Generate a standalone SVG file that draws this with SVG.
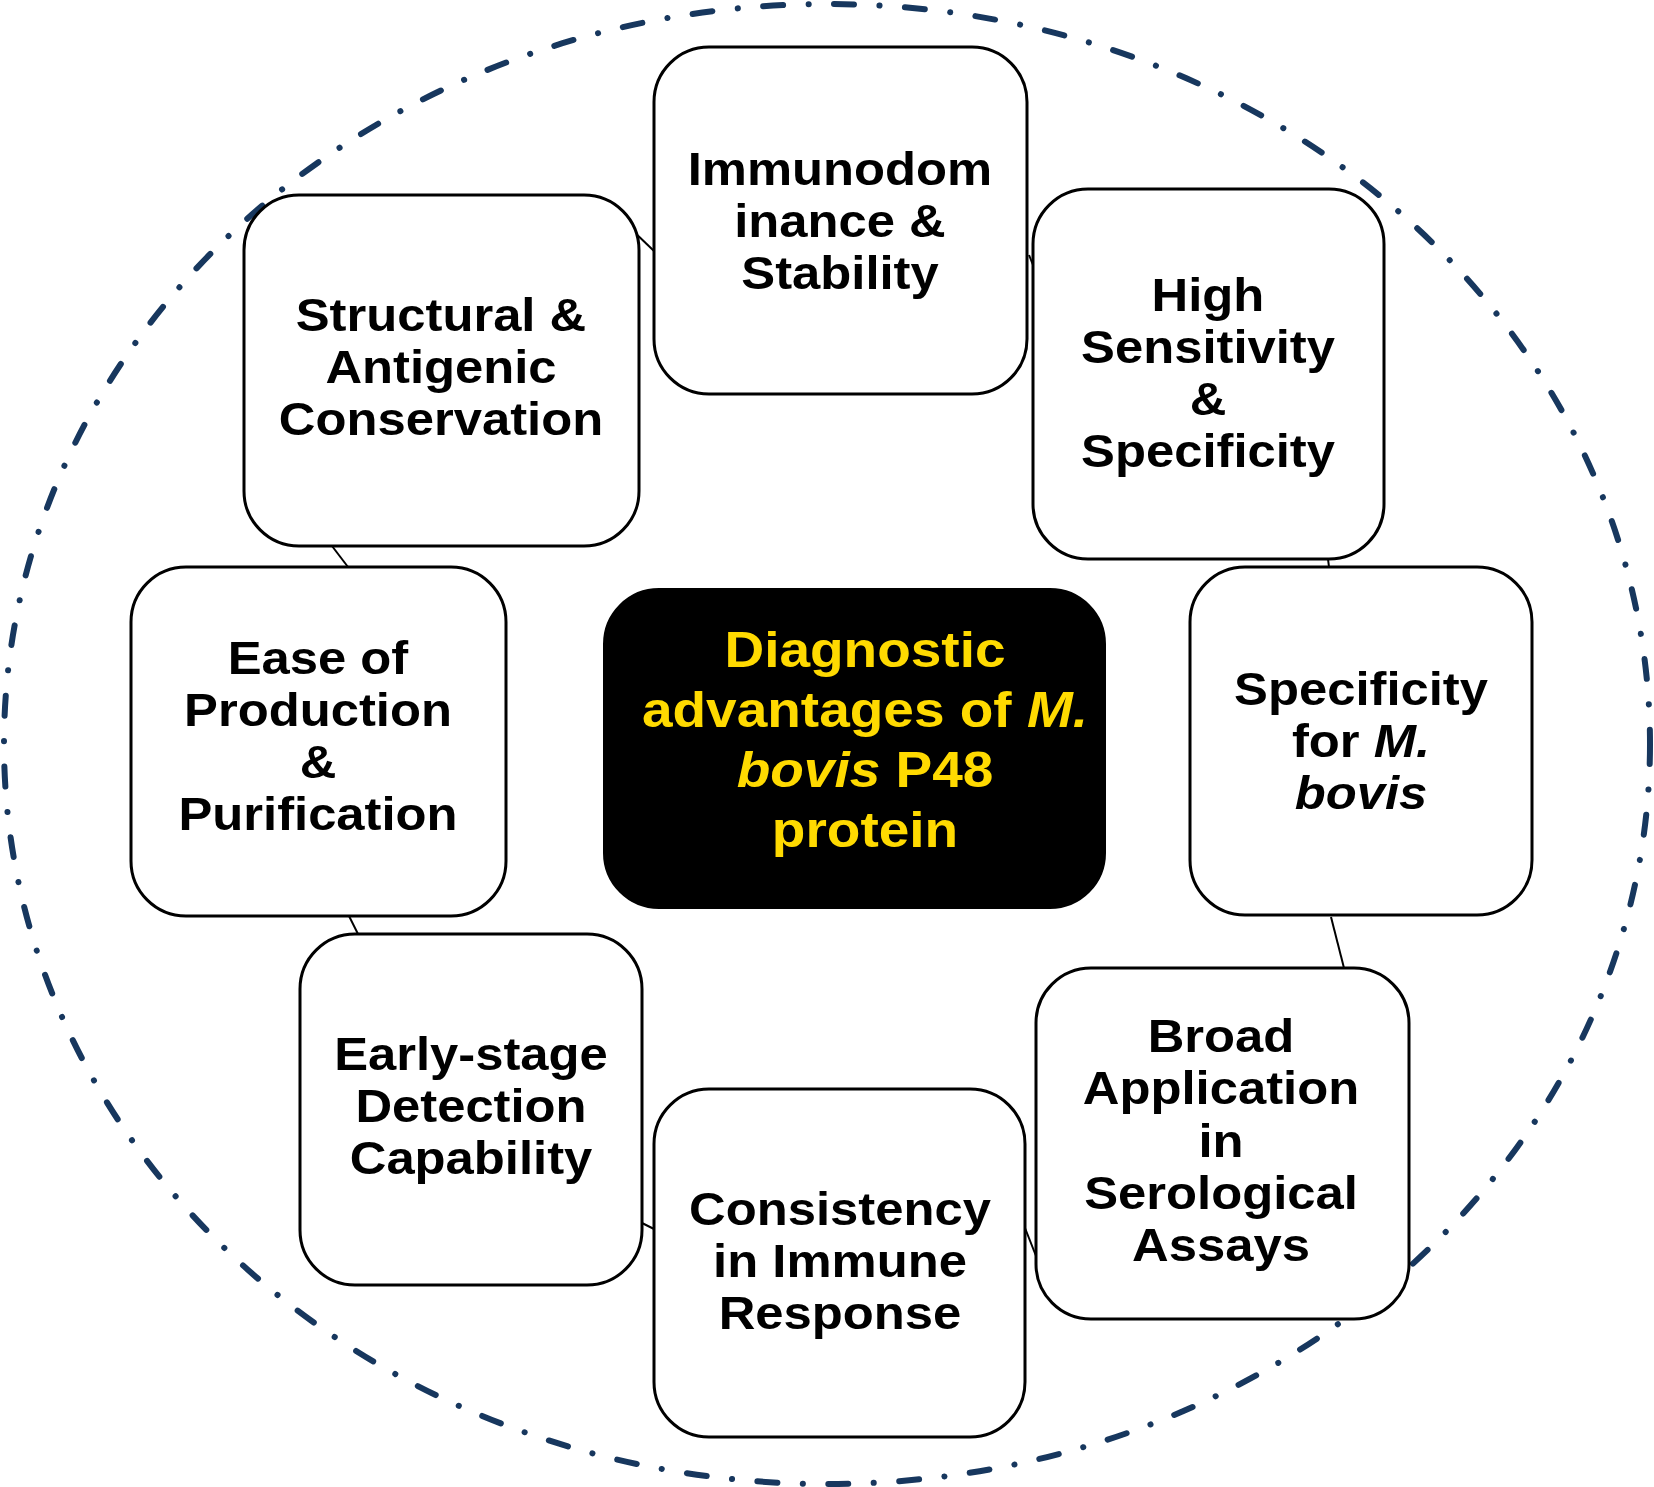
<svg xmlns="http://www.w3.org/2000/svg" width="1654" height="1487" viewBox="0 0 1654 1487">
<style>
.ring{fill:none;stroke:#17375E;stroke-width:6;stroke-linecap:round;stroke-dasharray:20 25.5 0.1 25.4}
.box{fill:#FFFFFF;stroke:#000000;stroke-width:3}
.core{fill:#000000;stroke:#000000;stroke-width:2}
.lnk{stroke:#000000;stroke-width:2;fill:none}
text{font-family:"Liberation Sans",Arial,sans-serif;font-weight:bold;text-anchor:middle}
.t{font-size:47px;fill:#000000}
.c{font-size:50px;fill:#FFDA00}
</style>
<rect x="0" y="0" width="1654" height="1487" fill="#FFFFFF"/>
<ellipse class="ring" cx="827" cy="744" rx="823" ry="740"/>
<g id="connectors">
<line class="lnk" x1="630" y1="228" x2="654" y2="251"/>
<line class="lnk" x1="1029" y1="255" x2="1033" y2="265"/>
<line class="lnk" x1="1328" y1="559" x2="1329" y2="567"/>
<line class="lnk" x1="1331" y1="917" x2="1344" y2="968"/>
<line class="lnk" x1="1025" y1="1228" x2="1038" y2="1261"/>
<line class="lnk" x1="642" y1="1223" x2="654" y2="1229"/>
<line class="lnk" x1="349" y1="916" x2="358" y2="934"/>
<line class="lnk" x1="332" y1="546" x2="348" y2="567"/>
</g>
<g id="n-immuno">
<rect class="box" x="654" y="47" width="373" height="347" rx="55" ry="55"/>
<g transform="translate(840,0) scale(1.08,1)">
<text class="t" x="0" y="185">Immunodom</text>
<text class="t" x="0" y="237">inance &amp;</text>
<text class="t" x="0" y="289">Stability</text>
</g>
</g>
<g id="n-sensitivity">
<rect class="box" x="1033" y="189" width="351" height="370" rx="55" ry="55"/>
<g transform="translate(1208,0) scale(1.08,1)">
<text class="t" x="0" y="311">High</text>
<text class="t" x="0" y="363">Sensitivity</text>
<text class="t" x="0" y="415">&amp;</text>
<text class="t" x="0" y="467">Specificity</text>
</g>
</g>
<g id="n-specificity">
<rect class="box" x="1190" y="567" width="342" height="348" rx="55" ry="55"/>
<g transform="translate(1361,0) scale(1.08,1)">
<text class="t" x="0" y="705">Specificity</text>
<text class="t" x="0" y="757">for <tspan font-style="italic">M.</tspan></text>
<text class="t" x="0" y="809" font-style="italic">bovis</text>
</g>
</g>
<g id="n-broad">
<rect class="box" x="1036" y="968" width="373" height="351" rx="55" ry="55"/>
<g transform="translate(1221,0) scale(1.08,1)">
<text class="t" x="0" y="1052">Broad</text>
<text class="t" x="0" y="1104">Application</text>
<text class="t" x="0" y="1157">in</text>
<text class="t" x="0" y="1209">Serological</text>
<text class="t" x="0" y="1261">Assays</text>
</g>
</g>
<g id="n-consistency">
<rect class="box" x="654" y="1089" width="371" height="348" rx="55" ry="55"/>
<g transform="translate(840,0) scale(1.08,1)">
<text class="t" x="0" y="1225">Consistency</text>
<text class="t" x="0" y="1277">in Immune</text>
<text class="t" x="0" y="1329">Response</text>
</g>
</g>
<g id="n-early">
<rect class="box" x="300" y="934" width="342" height="351" rx="55" ry="55"/>
<g transform="translate(471,0) scale(1.08,1)">
<text class="t" x="0" y="1070">Early-stage</text>
<text class="t" x="0" y="1122">Detection</text>
<text class="t" x="0" y="1174">Capability</text>
</g>
</g>
<g id="n-ease">
<rect class="box" x="131" y="567" width="375" height="349" rx="55" ry="55"/>
<g transform="translate(318,0) scale(1.08,1)">
<text class="t" x="0" y="674">Ease of</text>
<text class="t" x="0" y="726">Production</text>
<text class="t" x="0" y="778">&amp;</text>
<text class="t" x="0" y="830">Purification</text>
</g>
</g>
<g id="n-structural">
<rect class="box" x="244" y="195" width="395" height="351" rx="55" ry="55"/>
<g transform="translate(441,0) scale(1.08,1)">
<text class="t" x="0" y="331">Structural &amp;</text>
<text class="t" x="0" y="383">Antigenic</text>
<text class="t" x="0" y="435">Conservation</text>
</g>
</g>
<g id="n-center">
<rect class="core" x="604" y="589" width="501" height="319" rx="55" ry="55"/>
<g transform="translate(865,0) scale(1.1,1)">
<text class="c" x="0" y="667">Diagnostic</text>
<text class="c" x="0" y="727">advantages of <tspan font-style="italic">M.</tspan></text>
<text class="c" x="0" y="787"><tspan font-style="italic">bovis</tspan> P48</text>
<text class="c" x="0" y="847">protein</text>
</g>
</g>
</svg>
